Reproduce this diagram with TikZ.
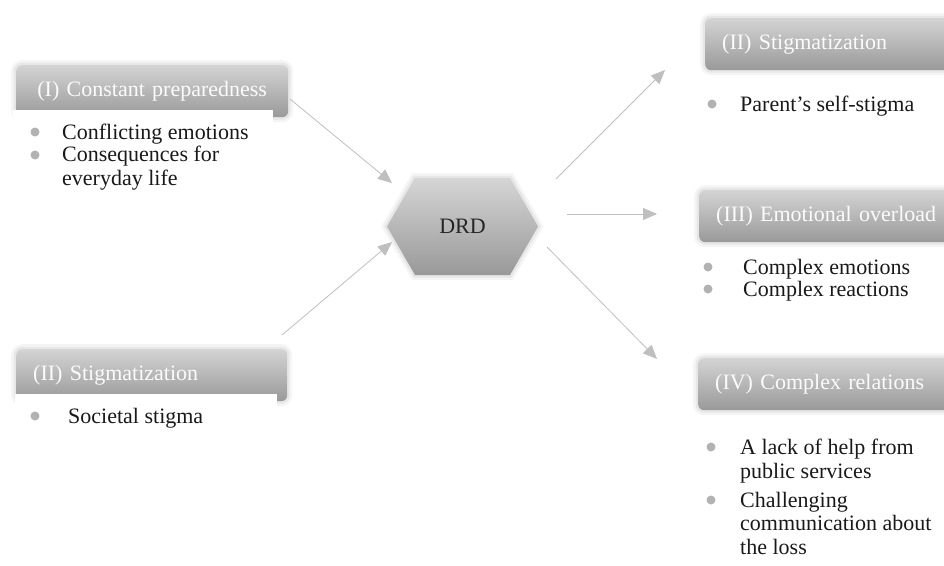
\documentclass[tikz,border=0pt]{standalone}
\usepackage{fontspec}
\setmainfont{Liberation Serif}
\usetikzlibrary{shapes.symbols, arrows.meta}

\begin{document}
\begin{tikzpicture}[
			x=1pt, y=-1pt,
			every node/.style={font=\fontsize{22}{23.5}\selectfont},
			glow/.style={preaction={draw=black, opacity=.04, line width=10pt},
				preaction={draw=black, opacity=.06, line width=5pt}},
			theme/.style={glow, rounded corners=6pt, top color=gray!34, bottom color=gray!80,
				minimum height=52pt, inner xsep=17pt, anchor=north west, text=white!97!gray},
			hexa/.style={glow, signal, signal to=east and west, signal pointer angle=120, inner sep=0pt,
				minimum width=151pt, minimum height=97pt, top color=gray!33, bottom color=gray!80, text=black!85},
			item/.style={anchor=base west, inner sep=0pt, align=left, text=black!90},
			dot/.style={fill=gray!60},
			to/.style={-{Triangle[length=14pt, width=12pt]}, draw=gray!50, line width=.8pt}
			]
			
			\useasboundingbox (0,0) rectangle (944,565);
			\clip (0,0) rectangle (944,565);
			
			% left side (multi-line items sit on their last baseline)
			\node[theme, minimum width=272pt, text width=238pt, align=center] (pre) at (16,65) {(I) Constant preparedness};
			\fill[white] (13,110) rectangle (273,200);
			\fill[dot] (35,132) circle (4.5);
			\node[item] (conf) at (62,139) {Conflicting emotions};
			\fill[dot] (35,155) circle (4.5);
			\node[item] (cons) at (62,185) {Consequences for\\everyday life};
			
			\node[theme, minimum width=271pt, text width=237pt, align=left] (soc) at (16,349) {(II) Stigmatization};
			\fill[white] (15,394) rectangle (277,440);
			\fill[dot] (35,416) circle (4.5);
			\node[item] (socst) at (68,423) {Societal stigma};
			
			% center
			\node[hexa] (drd) at (462.5,226.5) {DRD};
			
			% right side
			\node[theme, text width=260pt, align=left] (selfst) at (705,18) {(II) Stigmatization};
			\fill[dot] (712,104) circle (4.5);
			\node[item] (parent) at (740,111) {Parent's self-stigma};
			
			\node[theme, text width=260pt, align=left] (overload) at (699,190) {(III) Emotional overload};
			\fill[dot] (708,267) circle (4.5);
			\node[item] (cemo) at (743,274) {Complex emotions};
			\fill[dot] (708,289) circle (4.5);
			\node[item] (creac) at (743,296) {Complex reactions};
			
			\node[theme, text width=260pt, align=left] (relations) at (698,358) {(IV) Complex relations};
			\fill[dot] (711,447) circle (4.5);
			\node[item] (help) at (740,478) {A lack of help from\\public services};
			\fill[dot] (711,500) circle (4.5);
			\node[item] (comm) at (740,554) {Challenging\\communication about\\the loss};
			
			% connectors
			\coordinate (pre-out) at (290,99);
			\coordinate (soc-out) at (282,335);
			\coordinate (drd-in1) at (392,183);
			\coordinate (drd-in2) at (392,242);
			\coordinate (drd-out1) at (556,179);
			\coordinate (drd-out2) at (567,214);
			\coordinate (drd-out3) at (547,247);
			\coordinate (selfst-in) at (665,70);
			\coordinate (overload-in) at (657,214);
			\coordinate (relations-in) at (657,359);
			
			\draw[to] (pre-out) -- (drd-in1);
			\draw[to] (soc-out) -- (drd-in2);
			\draw[to] (drd-out1) -- (selfst-in);
			\draw[to] (drd-out2) -- (overload-in);
			\draw[to] (drd-out3) -- (relations-in);
			
			\end{tikzpicture}
\end{document}
